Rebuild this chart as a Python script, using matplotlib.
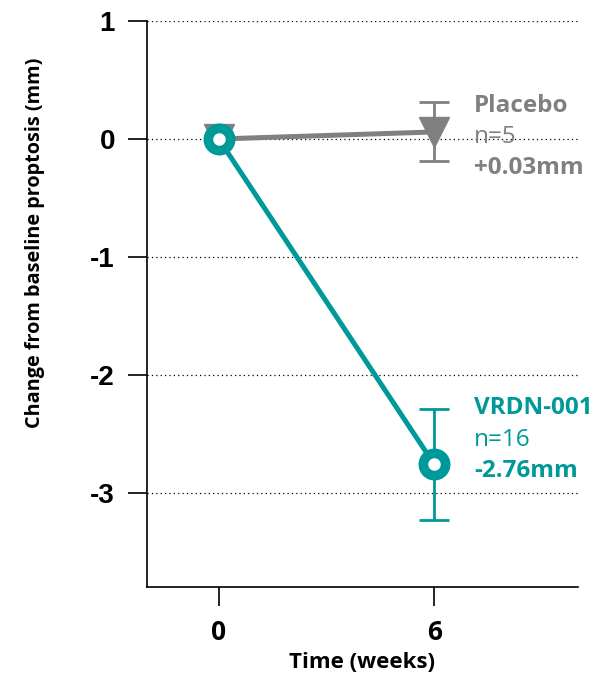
"""
Change from baseline proptosis, VRDN-001 vs placebo.
"""

import matplotlib.pyplot as plt

# data
weeks = [0, 6]
placebo_mean = [0.0, 0.06]
placebo_err = [0.0, 0.25]
vrdn_mean = [0.0, -2.76]
vrdn_err = [0.0, 0.47]

yticks = [1, 0, -1, -2, -3]
xticks = [0, 6]

TEAL = "#009999"
GRAY = "#808080"
LABEL_FONT = "Open Sans"


def main():
    fig = plt.figure(figsize=(6.02, 6.81), dpi=100)
    ax = fig.add_axes([0.244, 0.138, 0.716, 0.831])

    # dotted reference lines at each y tick
    for y in yticks:
        ax.axhline(y, color="black", lw=0.9, ls=(0, (1, 2.5)), zorder=0)

    # placebo: grey line, error bar at week 6, downward triangle
    ax.plot(weeks, placebo_mean, color=GRAY, lw=3.6, zorder=2)
    ax.errorbar(weeks[1:], placebo_mean[1:], yerr=placebo_err[1:], fmt="none",
                ecolor=GRAY, elinewidth=2, capsize=11, capthick=2, zorder=2)
    ax.plot(weeks, placebo_mean, ls="none", marker="v", ms=21, color=GRAY, zorder=3)

    # VRDN-001: teal line, error bar, open circles
    ax.plot(weeks, vrdn_mean, color=TEAL, lw=3.6, zorder=4)
    ax.errorbar(weeks[1:], vrdn_mean[1:], yerr=vrdn_err[1:], fmt="none",
                ecolor=TEAL, elinewidth=2, capsize=11, capthick=2, zorder=4)
    ax.plot(weeks, vrdn_mean, ls="none", marker="o", ms=16, mew=7,
            mec=TEAL, mfc="white", zorder=5)

    # labels next to the week 6 points
    tx = 7.1
    fs = 17.5
    ax.text(tx, 0.28, "Placebo", color=GRAY, fontsize=fs, fontweight="bold",
            family=LABEL_FONT, va="center")
    ax.text(tx, 0.02, "n=5", color=GRAY, fontsize=fs, family=LABEL_FONT, va="center")
    ax.text(tx, -0.25, "+0.03mm", color=GRAY, fontsize=fs, fontweight="bold",
            family=LABEL_FONT, va="center")
    ax.text(tx, -2.28, "VRDN-001", color=TEAL, fontsize=fs, fontweight="bold",
            family=LABEL_FONT, va="center")
    ax.text(tx, -2.55, "n=16", color=TEAL, fontsize=fs, family=LABEL_FONT, va="center")
    ax.text(tx, -2.82, "-2.76mm", color=TEAL, fontsize=fs, fontweight="bold",
            family=LABEL_FONT, va="center")

    ax.set_xlim(-2, 10)
    ax.set_ylim(-3.8, 1)
    ax.set_yticks(yticks)
    ax.set_yticklabels([str(v) for v in yticks], fontsize=20, fontweight="bold",
                       family="Liberation Sans")
    ax.set_xticks(xticks)
    ax.set_xticklabels([str(v) for v in xticks], fontsize=19, fontweight="bold",
                       family=LABEL_FONT)

    ax.spines["top"].set_visible(False)
    ax.spines["right"].set_visible(False)
    for s in ("left", "bottom"):
        ax.spines[s].set_linewidth(1.2)
    ax.tick_params(direction="out", length=14, width=1.2, pad=9)

    ax.set_xlabel("Time (weeks)", fontsize=16, fontweight="bold", family=LABEL_FONT, labelpad=4)
    ax.set_ylabel("Change from baseline proptosis (mm)", fontsize=14.3, fontweight="bold",
                  family=LABEL_FONT, va="center")
    ax.yaxis.set_label_coords(-0.26, 0.608)

    fig.savefig("out.png", dpi=100)


if __name__ == "__main__":
    main()
